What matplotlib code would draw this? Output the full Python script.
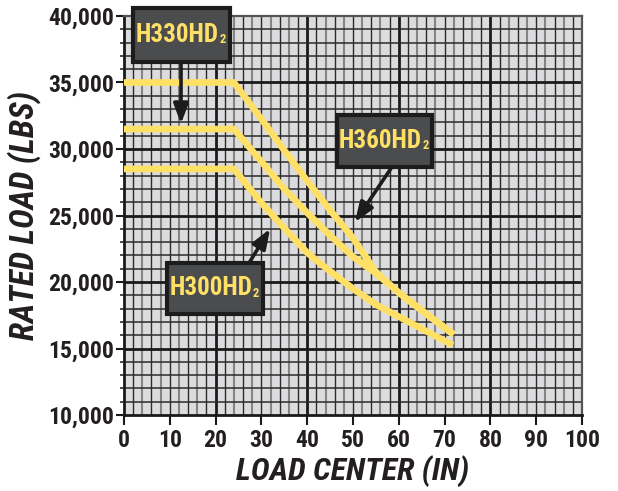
import numpy as np
import matplotlib.pyplot as plt
from matplotlib.patches import Rectangle

# load chart values
h360_x = [0, 24, 30, 35, 40, 45, 50, 55, 60, 66, 72]
h360_y = [35000, 35000, 32250, 29900, 27600, 25400, 23300, 20750, 19200, 17600, 16050]
h330_x = [0, 24, 30, 35, 40, 45, 50, 55, 60, 66, 72]
h330_y = [31500, 31500, 29050, 27000, 25200, 23500, 21900, 20650, 19200, 17600, 16050]
h300_x = [0, 24, 30, 35, 40, 45, 50, 55, 60, 66, 71.8]
h300_y = [28500, 28500, 25950, 24050, 22200, 20800, 19500, 18300, 17400, 16300, 15250]

x_ticks = list(range(0, 101, 10))
y_ticks = list(range(10000, 40001, 5000))
y_labels = ['10,000', '15,000', '20,000', '25,000', '30,000', '35,000', '40,000']

FONT = ['Liberation Sans Narrow', 'Roboto Condensed', 'DejaVu Sans']
TXT = '#231f20'
YEL = '#ffe066'
plt.rcParams['font.family'] = FONT

fig = plt.figure(figsize=(6.18, 4.91), dpi=100)
ax = fig.add_axes([124 / 618, 1 - 415 / 491, 458 / 618, 399 / 491])
ax.set_facecolor('#dcdcde')
ax.set_xlim(0, 100)
ax.set_ylim(10000, 40000)

# graph paper grid
for v in range(2, 100, 2):
    if v % 20 == 0:
        ax.axvline(v, color='#1a1a1a', lw=2.0, zorder=1)
    elif v % 4 == 0:
        ax.axvline(v, color='#858585', lw=1.5, zorder=1)
    else:
        ax.axvline(v, color='#2a2a2a', lw=1.0, zorder=1)
for h in range(11000, 40000, 1000):
    if h % 5000 == 0:
        ax.axhline(h, color='#1a1a1a', lw=2.0, zorder=1)
    else:
        ax.axhline(h, color='#2a2a2a', lw=1.1, zorder=1)

for sp in ['left', 'bottom']:
    ax.spines[sp].set_linewidth(2.0)
    ax.spines[sp].set_color('#1a1a1a')
for sp in ['right', 'top']:
    ax.spines[sp].set_linewidth(1.6)
    ax.spines[sp].set_color('#555555')

ax.set_xticks(x_ticks)
ax.set_yticks(y_ticks)
ax.set_yticklabels(y_labels)
ax.set_yticks(range(10000, 40001, 1000), minor=True)
ax.tick_params(axis='x', length=7, width=1.5, color='#1a1a1a', pad=3,
               labelsize=17, labelcolor=TXT)
ax.tick_params(axis='y', which='major', length=6, width=1.5, color='#1a1a1a', pad=1,
               labelsize=17, labelcolor=TXT)
ax.tick_params(axis='y', which='minor', length=3, width=1.1, color='#1a1a1a')
for lab in ax.get_xticklabels() + ax.get_yticklabels():
    lab.set_fontweight('bold')

# load curves
for xs, ys in [(h300_x, h300_y), (h330_x, h330_y), (h360_x, h360_y)]:
    ax.plot(xs, ys, color=YEL, lw=4.8, solid_capstyle='butt',
            solid_joinstyle='miter', zorder=3)

ax.set_xlabel('LOAD CENTER (IN)', fontsize=23, fontweight='bold', style='italic',
              color=TXT, labelpad=2)
ax.set_ylabel('RATED LOAD (LBS)', fontsize=24, fontweight='bold', style='italic',
              color=TXT, labelpad=5)


def label_box(x0, y0, x1, y1, name, tip, tail):
    ax.annotate('', xy=tip, xytext=tail, annotation_clip=False,
                arrowprops=dict(arrowstyle='-|>,head_length=0.85,head_width=0.32',
                                mutation_scale=14, lw=2.6, color='#1c1c1c',
                                shrinkA=0, shrinkB=0), zorder=5)
    ax.add_patch(Rectangle((x0, y0), x1 - x0, y1 - y0, facecolor='#4b4c4e',
                           edgecolor='#1c1c1c', lw=3, clip_on=False, zorder=6))
    t = ax.text((x0 + x1) / 2 - 0.9, (y0 + y1) / 2, name, ha='center', va='center',
                fontsize=18, fontweight='bold', color=YEL, zorder=7, clip_on=False)
    ax.annotate('2', xy=(1, 0), xycoords=t, xytext=(0.5, 0.5), textcoords='offset points',
                ha='left', va='bottom', fontsize=9, fontweight='bold', color=YEL,
                zorder=7, annotation_clip=False)


label_box(1.97, 36550, 23.1, 40600, 'H330HD', (12.45, 31900), (12.45, 36550))
label_box(46.5, 28650, 67.2, 32560, 'H360HD', (50.4, 24500), (58.5, 28650))
label_box(9.4, 17600, 30.35, 21430, 'H300HD', (31.9, 24000), (27.3, 21430))

fig.savefig('out.png', dpi=100)
